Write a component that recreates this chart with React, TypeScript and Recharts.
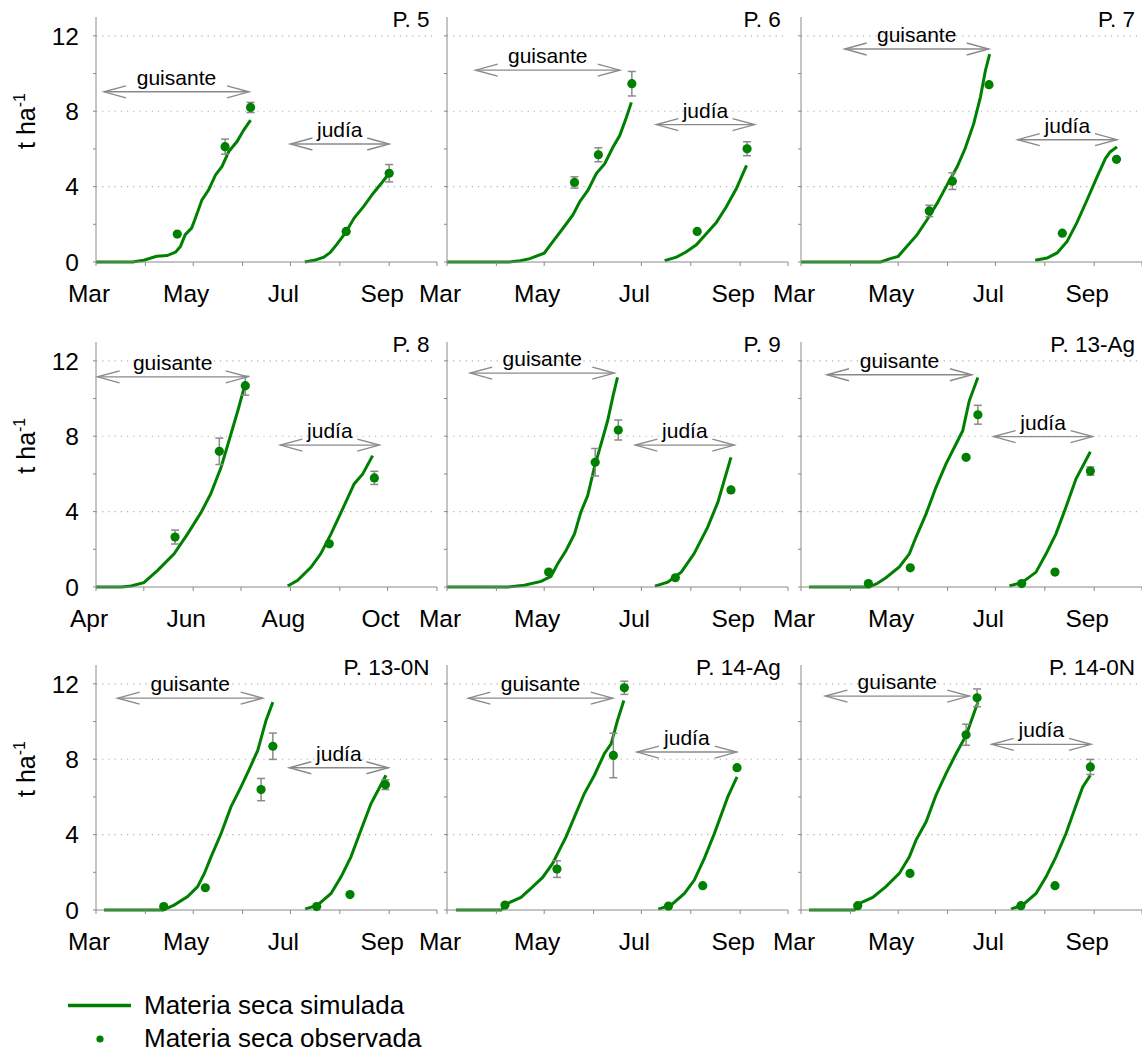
import React from 'react';
import { ComposedChart, Line, Scatter, XAxis, YAxis, ErrorBar, ReferenceLine } from 'recharts';

type Pt = [number, number];
type Obs = [number, number, number];
type Arrow = [number, number, number];

// x values are day of year
const marchTicks = [60, 91, 121, 152, 182, 213, 244, 274];
const marchLabels = ['Mar', '', 'May', '', 'Jul', '', 'Sep', ''];
const aprilTicks = [91, 121, 152, 182, 213, 244, 274, 305];
const aprilLabels = ['Apr', '', 'Jun', '', 'Aug', '', 'Oct', ''];
const yTicks = [0, 2, 4, 6, 8, 10, 12];
const yLabelled = [0, 4, 8, 12];
const gridValues = [4, 8, 12];

const titles = ['P. 5', 'P. 6', 'P. 7', 'P. 8', 'P. 9', 'P. 13-Ag', 'P. 13-0N', 'P. 14-Ag', 'P. 14-0N'];
const startDays = [60, 60, 60, 91, 60, 60, 60, 60, 60];

// simulated dry matter, pea (guisante) and bean (judía)
const p5Guisante: Pt[] = [[60, 0], [83, 0], [90, 0.09], [98, 0.3], [104.6, 0.34], [110, 0.53], [113, 0.83], [116, 1.45], [120, 1.8], [122, 2.24], [126.5, 3.3], [130.7, 3.83], [135, 4.62], [139, 5.06], [143.3, 5.86], [148.5, 6.39], [152.7, 7.0], [157, 7.53]];
const p5Judia: Pt[] = [[191, 0], [197, 0.09], [203, 0.26], [207, 0.51], [211, 0.92], [216.5, 1.54], [222, 2.33], [228, 2.95], [234, 3.65], [239.5, 4.22], [244, 4.71]];
const p5Obs: Obs[] = [[111, 1.48, 0], [141, 6.12, 0.4], [157, 8.2, 0.27], [217, 1.62, 0], [244, 4.71, 0.46]];

const p6Guisante: Pt[] = [[60, 0], [99, 0], [106, 0.07], [112, 0.18], [121, 0.47], [127.6, 1.21], [132.8, 1.79], [139, 2.5], [143.3, 3.2], [148.5, 3.81], [153.7, 4.69], [159, 5.22], [164.2, 6.1], [168.4, 6.71], [172.6, 7.68], [175.7, 8.47]];
const p6Judia: Pt[] = [[196.6, 0.07], [204, 0.26], [210, 0.53], [216.5, 0.91], [223, 1.53], [229, 2.09], [235.3, 2.93], [241.6, 3.9], [248, 5.13]];
const p6Obs: Obs[] = [[140, 4.22, 0.3], [155, 5.69, 0.37], [176, 9.46, 0.65], [217, 1.62, 0], [248.3, 6.01, 0.37]];

const p7Guisante: Pt[] = [[60, 0], [110, 0], [116, 0.18], [121, 0.3], [126.5, 0.83], [132.8, 1.44], [139, 2.23], [145.4, 3.11], [151.6, 4.08], [158, 5.05], [163, 6.02], [168.4, 7.34], [172.6, 8.75], [175.7, 10.15], [178.4, 11.03]];
const p7Judia: Pt[] = [[207, 0.09], [214.4, 0.21], [220.7, 0.48], [227, 1.09], [233, 2.06], [239.5, 3.29], [245.8, 4.52], [251, 5.49], [254, 5.84], [258.3, 6.11]];
const p7Obs: Obs[] = [[140.5, 2.71, 0.3], [155, 4.29, 0.44], [178, 9.41, 0], [224, 1.53, 0], [258, 5.45, 0]];

const p8Guisante: Pt[] = [[91, 0], [107, 0], [113, 0.05], [121, 0.23], [129.7, 0.88], [140, 1.76], [148.5, 2.82], [157, 3.97], [163, 4.94], [169.5, 6.35], [175.7, 8.12], [180, 9.35], [184, 10.59]];
const p8Judia: Pt[] = [[211.3, 0.05], [217.6, 0.35], [226, 1.06], [232, 1.76], [238.5, 2.82], [245.8, 4.15], [253, 5.47], [258.4, 6.0], [264.6, 6.97]];
const p8Obs: Obs[] = [[140.6, 2.65, 0.37], [168.4, 7.2, 0.7], [184.7, 10.68, 0.5], [237.4, 2.29, 0], [265.7, 5.79, 0.35]];

const p9Guisante: Pt[] = [[60, 0], [98, 0], [108.5, 0.09], [119, 0.3], [125.3, 0.56], [129.5, 1.24], [134.7, 1.94], [140, 2.82], [144, 3.97], [148.3, 4.85], [152.5, 6.35], [156.7, 7.59], [160.8, 8.82], [164, 10.06], [167, 11.12]];
const p9Judia: Pt[] = [[190.5, 0.05], [198.5, 0.26], [207, 0.79], [215, 1.76], [223.6, 3.18], [230, 4.5], [238.2, 6.88]];
const p9Obs: Obs[] = [[123.8, 0.79, 0.1], [153, 6.62, 0.73], [167.5, 8.33, 0.53], [203.3, 0.49, 0], [238.2, 5.15, 0.1]];

const p13AgGuisante: Pt[] = [[65, 0], [103, 0], [108, 0.2], [113.3, 0.49], [121.7, 1.06], [128, 1.76], [132.2, 2.65], [138.5, 3.88], [144.7, 5.29], [151, 6.53], [157.3, 7.59], [161.5, 8.29], [165.6, 9.88], [171, 11.12]];
const p13AgJudia: Pt[] = [[190.8, 0.05], [199, 0.26], [207.5, 0.79], [213.8, 1.76], [220, 2.82], [226.3, 4.24], [232.6, 5.74], [241.6, 7.18]];
const p13AgObs: Obs[] = [[102.3, 0.18, 0], [128.6, 1.02, 0], [163.6, 6.88, 0.1], [171, 9.14, 0.5], [198.5, 0.18, 0], [219.4, 0.79, 0], [241.6, 6.15, 0.22]];

const p13NGuisante: Pt[] = [[65, 0], [102, 0], [109, 0.26], [117.5, 0.71], [123.8, 1.24], [128, 1.94], [132.2, 2.82], [138.5, 4.06], [144.7, 5.47], [151, 6.53], [157.3, 7.68], [161.5, 8.47], [166.7, 10.06], [171, 11.03]];
const p13NJudia: Pt[] = [[191.2, 0.05], [199, 0.26], [207.5, 0.88], [213.8, 1.76], [220, 2.82], [226.3, 4.24], [232.6, 5.65], [242, 7.15]];
const p13NObs: Obs[] = [[102.5, 0.18, 0], [128.6, 1.18, 0], [163.6, 6.39, 0.59], [171, 8.69, 0.7], [198.5, 0.18, 0], [219.4, 0.82, 0], [241.6, 6.65, 0.26]];

const p14AgGuisante: Pt[] = [[65.6, 0], [94, 0], [98, 0.35], [106.4, 0.67], [112.7, 1.15], [120, 1.73], [126.3, 2.47], [130.5, 3.18], [134.7, 3.88], [140, 4.94], [146.2, 6.18], [152.5, 7.15], [158.7, 8.29], [163, 8.82], [167, 10.06], [171, 11.12]];
const p14AgJudia: Pt[] = [[192.6, 0.05], [200.6, 0.26], [209, 0.88], [215.2, 1.59], [221.5, 2.74], [227.8, 4.06], [236.2, 6.0], [242, 7.06]];
const p14AgObs: Obs[] = [[96.4, 0.26, 0], [129, 2.17, 0.44], [164.4, 8.2, 1.18], [171.3, 11.79, 0.35], [199, 0.21, 0], [220.5, 1.29, 0], [242, 7.55, 0.1]];

const p14NGuisante: Pt[] = [[65, 0], [93.5, 0], [96.6, 0.35], [105, 0.67], [113.3, 1.24], [121.7, 1.94], [128, 2.82], [132.2, 3.71], [138.5, 4.68], [144.7, 6.09], [151, 7.24], [157.3, 8.29], [163.6, 9.26], [167.7, 10.24], [171, 11.03]];
const p14NJudia: Pt[] = [[191.8, 0.05], [199, 0.26], [207.5, 0.88], [213.8, 1.76], [220, 2.82], [226.3, 4.06], [232.6, 5.56], [236.8, 6.53], [241.6, 7.15]];
const p14NObs: Obs[] = [[95.6, 0.23, 0], [128.4, 1.94, 0], [163.6, 9.3, 0.56], [170.5, 11.26, 0.47], [198, 0.23, 0], [219.4, 1.29, 0], [241.6, 7.59, 0.4]];

// crop season arrows: [from day, to day, level]
const guisanteArrows: Arrow[] = [[65, 156, 9.03], [78, 168.4, 10.18], [87.4, 177.8, 11.3], [92, 186.2, 11.15], [74.6, 165, 11.35], [76.3, 167.3, 11.26], [73.6, 164.6, 11.24], [73.4, 164, 11.24], [75.3, 165.6, 11.35]];
const judiaArrows: Arrow[] = [[182, 244, 6.26], [191.4, 253, 7.29], [196, 258.3, 6.49], [206.7, 268.8, 7.53], [178.2, 240.3, 7.53], [180.9, 243, 7.98], [181.3, 243.5, 7.55], [179.2, 241.8, 8.38], [179.7, 242, 8.79]];

const guisanteSeries = [p5Guisante, p6Guisante, p7Guisante, p8Guisante, p9Guisante, p13AgGuisante, p13NGuisante, p14AgGuisante, p14NGuisante];
const judiaSeries = [p5Judia, p6Judia, p7Judia, p8Judia, p9Judia, p13AgJudia, p13NJudia, p14AgJudia, p14NJudia];
const obsSeries = [p5Obs, p6Obs, p7Obs, p8Obs, p9Obs, p13AgObs, p13NObs, p14AgObs, p14NObs];

const GREEN = '#008000';
const GREY = '#8a8a8a';
const FONT = '"Liberation Sans", Arial, Helvetica, sans-serif';

const COL_X = [95.5, 446.7, 801];
const ROW_ZERO = [262, 586.7, 910];
const PLOT_W = 341;
const PLOT_H = 245;
const Y_W = 50;
const M_TOP = 5;
const M_RIGHT = 5;
const X_H = 50;
const SPAN = 214;

const toPts = (a: Pt[]) => a.map(([x, y]) => ({ x, y }));
const toObs = (a: Obs[]) => a.map(([x, y, err]) => ({ x, y, err }));

function ArrowShape(props: any) {
  const { x1, y1, x2, label } = props;
  const l = Math.min(x1, x2);
  const r = Math.max(x1, x2);
  const y = y1;
  return (
    <g>
      <g stroke={GREY} strokeWidth={1.4} fill="none">
        <line x1={l} y1={y} x2={r} y2={y} />
        <polyline points={`${l + 22},${y - 6} ${l},${y} ${l + 22},${y + 6}`} />
        <polyline points={`${r - 22},${y - 6} ${r},${y} ${r - 22},${y + 6}`} />
      </g>
      <text x={(l + r) / 2} y={y - 7} textAnchor="middle" fontSize={21} fill="#000">
        {label}
      </text>
    </g>
  );
}

function Panel({ idx }: { idx: number }) {
  const row = Math.floor(idx / 3);
  const col = idx % 3;
  const start = startDays[idx];
  const ticks = start === 91 ? aprilTicks : marchTicks;
  const labels = start === 91 ? aprilLabels : marchLabels;
  const ga = guisanteArrows[idx];
  const ja = judiaArrows[idx];
  return (
    <div style={{ position: 'absolute', left: COL_X[col] - Y_W, top: ROW_ZERO[row] - PLOT_H - M_TOP }}>
      <ComposedChart
        width={Y_W + PLOT_W + M_RIGHT}
        height={M_TOP + PLOT_H + X_H}
        margin={{ top: M_TOP, right: M_RIGHT, bottom: 0, left: 0 }}
      >
        <XAxis
          type="number"
          dataKey="x"
          domain={[start, start + SPAN]}
          allowDataOverflow
          ticks={ticks}
          interval={0}
          height={X_H}
          stroke={GREY}
          tickSize={4}
          tickMargin={0}
          tick={(p: any) => {
            const i = ticks.indexOf(p.payload.value);
            return (
              <text x={p.x - 7} y={p.y + 36} textAnchor="middle" fontSize={24.5} fill="#000">
                {labels[i] || ''}
              </text>
            );
          }}
        />
        <YAxis
          type="number"
          dataKey="y"
          domain={[0, 13]}
          ticks={yTicks}
          interval={0}
          width={Y_W}
          stroke={GREY}
          tickSize={3}
          tickMargin={14}
          tick={(p: any) => (
            <text x={p.x} y={p.y + 8.7} textAnchor="end" fontSize={24.5} fill="#000">
              {col === 0 && yLabelled.includes(p.payload.value) ? p.payload.value : ''}
            </text>
          )}
        />
        {gridValues.map((v) => (
          <ReferenceLine key={v} y={v} stroke="#b0b0b0" strokeWidth={1.2} strokeDasharray="1.2 5" />
        ))}
        <ReferenceLine
          segment={[{ x: ga[0], y: ga[2] }, { x: ga[1], y: ga[2] }]}
          shape={(p: any) => <ArrowShape {...p} label="guisante" />}
        />
        <ReferenceLine
          segment={[{ x: ja[0], y: ja[2] }, { x: ja[1], y: ja[2] }]}
          shape={(p: any) => <ArrowShape {...p} label="judía" />}
        />
        <Line
          data={toPts(guisanteSeries[idx])}
          dataKey="y"
          type="linear"
          stroke={GREEN}
          strokeWidth={3}
          dot={false}
          isAnimationActive={false}
        />
        <Line
          data={toPts(judiaSeries[idx])}
          dataKey="y"
          type="linear"
          stroke={GREEN}
          strokeWidth={3}
          dot={false}
          isAnimationActive={false}
        />
        <Scatter
          data={toObs(obsSeries[idx])}
          dataKey="y"
          isAnimationActive={false}
          shape={(p: any) => <circle cx={p.cx} cy={p.cy} r={4.6} fill={GREEN} />}
        >
          <ErrorBar dataKey="err" direction="y" width={4} stroke={GREY} strokeWidth={1.5} />
        </Scatter>
      </ComposedChart>
    </div>
  );
}

export default function App() {
  return (
    <div
      style={{
        position: 'absolute',
        left: 0,
        top: 0,
        width: 1142,
        height: 1052,
        background: '#fff',
        fontFamily: FONT,
        overflow: 'hidden',
      }}
    >
      {titles.map((_, i) => (
        <Panel key={i} idx={i} />
      ))}
      <svg width={1142} height={1052} style={{ position: 'absolute', left: 0, top: 0, pointerEvents: 'none' }}>
        {titles.map((t, i) => {
          const row = Math.floor(i / 3);
          const col = i % 3;
          return (
            <text
              key={t}
              x={COL_X[col] + PLOT_W - 7}
              y={ROW_ZERO[row] - PLOT_H + 10}
              textAnchor="end"
              fontSize={22.5}
              fill="#000"
            >
              {t}
            </text>
          );
        })}
        {ROW_ZERO.map((z) => (
          <text key={z} transform={`translate(35, ${z - 141}) rotate(-90)`} textAnchor="middle" fontSize={25} fill="#000">
            t ha
            <tspan dy={-10} fontSize={16}>-1</tspan>
          </text>
        ))}
        <line x1={68} y1={1005.5} x2={131} y2={1005.5} stroke={GREEN} strokeWidth={3.5} />
        <circle cx={100} cy={1039} r={3.6} fill={GREEN} />
        <text x={144} y={1014} fontSize={26} fill="#000">Materia seca simulada</text>
        <text x={144} y={1047} fontSize={26} fill="#000">Materia seca observada</text>
      </svg>
    </div>
  );
}
